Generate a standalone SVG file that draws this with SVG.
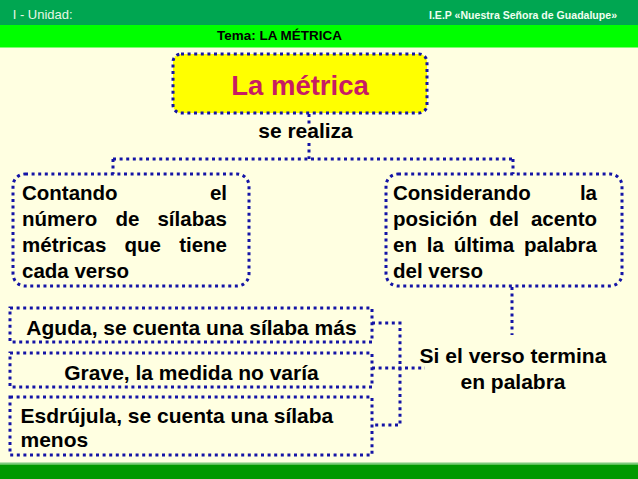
<svg xmlns="http://www.w3.org/2000/svg" width="638" height="479" viewBox="0 0 638 479">
<defs>
<style>
.dot{fill:none;stroke:#1414a6;stroke-width:3;stroke-dasharray:3 3.6}
.t{font-family:"Liberation Sans",Arial,sans-serif;font-weight:bold;fill:#000}
.b{font-size:20.5px}
.c{font-size:21px}
</style>
</defs>
<rect x="0" y="0" width="638" height="479" fill="#FFFFE1"/>
<g id="header">
<rect x="0" y="0" width="638" height="25" fill="#00A651"/>
<rect x="0" y="25" width="638" height="22.5" fill="#00FF00"/>
<text x="12.7" y="19" font-family="'Liberation Sans',Arial,sans-serif" font-size="13" fill="#E6F7E6" textLength="60" lengthAdjust="spacingAndGlyphs">I - Unidad:</text>
<text x="429" y="18.5" font-family="'Liberation Sans',Arial,sans-serif" font-weight="bold" font-size="10" fill="#F0FFF0" textLength="188" lengthAdjust="spacingAndGlyphs">I.E.P «Nuestra Señora de Guadalupe»</text>
<text x="217" y="39.5" class="t" font-size="13" textLength="125" lengthAdjust="spacingAndGlyphs">Tema: LA MÉTRICA</text>
</g>
<g id="footer">
<rect x="0" y="462.5" width="638" height="2" fill="#7DCB7D"/>
<rect x="0" y="464.5" width="638" height="14.5" fill="#009900"/>
</g>
<g id="connectors">
<path class="dot" d="M309 114 V126"/>
<path class="dot" d="M309 143 V159"/>
<path class="dot" d="M113 159 H513"/>
<path class="dot" d="M113 159 V174"/>
<path class="dot" d="M513 159 V174"/>
<path class="dot" d="M512 287 V335"/>
<path class="dot" d="M372 323 H400 V425 H372"/>
<path class="dot" d="M372 368 H425"/>
<text x="305.5" y="138" class="t c" text-anchor="middle">se realiza</text>
</g>
<g id="n-metrica">
<rect class="dot" x="173" y="54" width="254" height="59" rx="8" style="fill:#FFFF00"/>
<text x="300" y="95" class="t" font-size="27.5" style="fill:#C71C63" text-anchor="middle">La métrica</text>
</g>
<g id="n-contando">
<rect class="dot" x="13" y="174" width="236" height="112" rx="12"/>
<g class="t b">
<text x="22" y="200">Contando</text>
<text x="227" y="200" text-anchor="end">el</text>
<text x="22" y="226">número</text>
<text x="115.4" y="226">de</text>
<text x="227" y="226" text-anchor="end">sílabas</text>
<text x="22" y="252">métricas</text>
<text x="124.5" y="252">que</text>
<text x="227" y="252" text-anchor="end">tiene</text>
<text x="22" y="278">cada verso</text>
</g>
</g>
<g id="n-considerando">
<rect class="dot" x="386" y="174" width="236" height="112" rx="12"/>
<g class="t b">
<text x="393" y="200">Considerando</text>
<text x="597" y="200" text-anchor="end">la</text>
<text x="393" y="226">posición</text>
<text x="489.3" y="226">del</text>
<text x="597" y="226" text-anchor="end">acento</text>
<text x="393" y="252">en</text>
<text x="426.8" y="252">la</text>
<text x="453.8" y="252">última</text>
<text x="597" y="252" text-anchor="end">palabra</text>
<text x="393" y="278">del verso</text>
</g>
</g>
<g id="n-aguda">
<rect class="dot" x="10" y="308" width="362" height="34"/>
<text x="191.5" y="335" class="t c" text-anchor="middle">Aguda, se cuenta una sílaba más</text>
</g>
<g id="n-grave">
<rect class="dot" x="10" y="353" width="362" height="34"/>
<text x="191.5" y="380" class="t c" text-anchor="middle">Grave, la medida no varía</text>
</g>
<g id="n-esdrujula">
<rect class="dot" x="10" y="397" width="362" height="58"/>
<text x="20.5" y="423" class="t c">Esdrújula, se cuenta una sílaba</text>
<text x="20.5" y="447" class="t c">menos</text>
</g>
<g id="n-si">
<text x="513" y="363" class="t c" text-anchor="middle">Si el verso termina</text>
<text x="513" y="389" class="t c" text-anchor="middle">en palabra</text>
</g>
</svg>
